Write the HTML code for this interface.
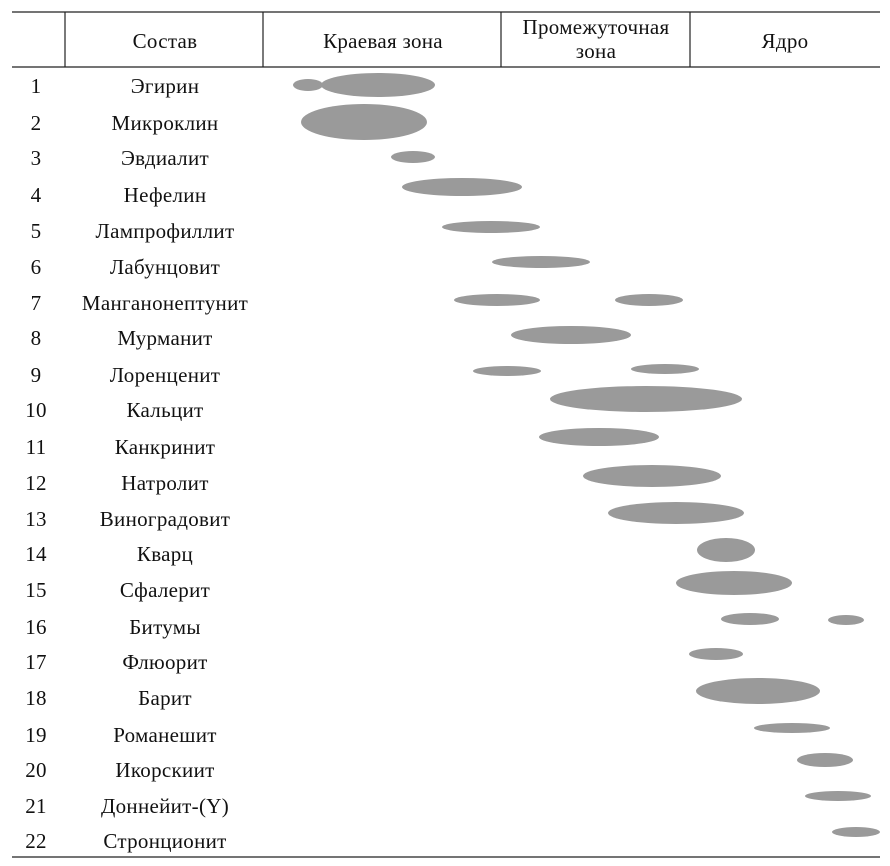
<!DOCTYPE html>
<html><head><meta charset="utf-8"><style>
body{margin:0;background:#fff}
svg{display:block}
text{font-family:"Liberation Serif","DejaVu Serif",serif;font-size:21px;letter-spacing:0.3px;fill:#111}
</style></head><body>
<svg width="890" height="866" viewBox="0 0 890 866">
<g stroke="#222" stroke-width="1.2">
<line x1="12" y1="12" x2="880" y2="12"/>
<line x1="12" y1="67" x2="880" y2="67"/>
<line x1="12" y1="857" x2="880" y2="857"/>
<line x1="65" y1="12" x2="65" y2="67"/>
<line x1="263" y1="12" x2="263" y2="67"/>
<line x1="501" y1="12" x2="501" y2="67"/>
<line x1="690" y1="12" x2="690" y2="67"/>
</g>
<text x="383" y="48" text-anchor="middle">Краевая зона</text>
<text x="165" y="48" text-anchor="middle">Состав</text>
<text x="596" y="34" text-anchor="middle">Промежуточная</text>
<text x="596" y="58" text-anchor="middle">зона</text>
<text x="785" y="48" text-anchor="middle">Ядро</text>
<g text-anchor="middle">
<text x="36" y="93">1</text><text x="165" y="93">Эгирин</text>
<text x="36" y="130">2</text><text x="165" y="130">Микроклин</text>
<text x="36" y="165">3</text><text x="165" y="165">Эвдиалит</text>
<text x="36" y="202">4</text><text x="165" y="202">Нефелин</text>
<text x="36" y="238">5</text><text x="165" y="238">Лампрофиллит</text>
<text x="36" y="274">6</text><text x="165" y="274">Лабунцовит</text>
<text x="36" y="310">7</text><text x="165" y="310">Манганонептунит</text>
<text x="36" y="345">8</text><text x="165" y="345">Мурманит</text>
<text x="36" y="382">9</text><text x="165" y="382">Лоренценит</text>
<text x="36" y="417">10</text><text x="165" y="417">Кальцит</text>
<text x="36" y="454">11</text><text x="165" y="454">Канкринит</text>
<text x="36" y="490">12</text><text x="165" y="490">Натролит</text>
<text x="36" y="526">13</text><text x="165" y="526">Виноградовит</text>
<text x="36" y="561">14</text><text x="165" y="561">Кварц</text>
<text x="36" y="597">15</text><text x="165" y="597">Сфалерит</text>
<text x="36" y="634">16</text><text x="165" y="634">Битумы</text>
<text x="36" y="669">17</text><text x="165" y="669">Флюорит</text>
<text x="36" y="705">18</text><text x="165" y="705">Барит</text>
<text x="36" y="742">19</text><text x="165" y="742">Романешит</text>
<text x="36" y="777">20</text><text x="165" y="777">Икорскиит</text>
<text x="36" y="813">21</text><text x="165" y="813">Доннейит-(Y)</text>
<text x="36" y="848">22</text><text x="165" y="848">Стронционит</text>
</g>
<g fill="#9a9a9a">
<ellipse cx="308" cy="85" rx="15" ry="6"/>
<ellipse cx="378" cy="85" rx="57" ry="12"/>
<ellipse cx="364" cy="122" rx="63" ry="18"/>
<ellipse cx="413" cy="157" rx="22" ry="6"/>
<ellipse cx="462" cy="187" rx="60" ry="9"/>
<ellipse cx="491" cy="227" rx="49" ry="6"/>
<ellipse cx="541" cy="262" rx="49" ry="6"/>
<ellipse cx="497" cy="300" rx="43" ry="6"/>
<ellipse cx="649" cy="300" rx="34" ry="6"/>
<ellipse cx="571" cy="335" rx="60" ry="9"/>
<ellipse cx="507" cy="371" rx="34" ry="5"/>
<ellipse cx="665" cy="369" rx="34" ry="5"/>
<ellipse cx="646" cy="399" rx="96" ry="13"/>
<ellipse cx="599" cy="437" rx="60" ry="9"/>
<ellipse cx="652" cy="476" rx="69" ry="11"/>
<ellipse cx="676" cy="513" rx="68" ry="11"/>
<ellipse cx="726" cy="550" rx="29" ry="12"/>
<ellipse cx="734" cy="583" rx="58" ry="12"/>
<ellipse cx="750" cy="619" rx="29" ry="6"/>
<ellipse cx="846" cy="620" rx="18" ry="5"/>
<ellipse cx="716" cy="654" rx="27" ry="6"/>
<ellipse cx="758" cy="691" rx="62" ry="13"/>
<ellipse cx="792" cy="728" rx="38" ry="5"/>
<ellipse cx="825" cy="760" rx="28" ry="7"/>
<ellipse cx="838" cy="796" rx="33" ry="5"/>
<ellipse cx="856" cy="832" rx="24" ry="5"/>
</g>
</svg>
</body></html>
